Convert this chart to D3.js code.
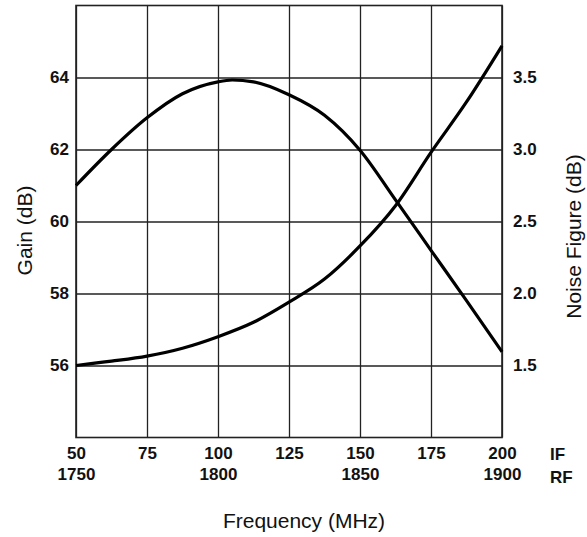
<!DOCTYPE html>
<html>
<head>
<meta charset="utf-8">
<script src="https://cdn.jsdelivr.net/npm/d3@7"></script>
<style>
  html, body { margin: 0; padding: 0; background: #fff; }
  svg { display: block; font-family: "Liberation Sans", Arial, sans-serif; }
</style>
</head>
<body>
<svg id="chart" width="587" height="537"></svg>
<script>
// ---- Data ----
const ifFreq   = [50, 62.5, 75, 87.5, 100, 105, 112.5, 125, 137.5, 150, 162.5, 175, 187.5, 200];
const gainDb   = [61.0, 62.0, 62.88, 63.55, 63.88, 63.93, 63.88, 63.52, 62.95, 61.98, 60.6, 59.2, 57.8, 56.38];
const nfIf     = [50, 62.5, 75, 87.5, 100, 112.5, 125, 137.5, 150, 162.5, 175, 187.5, 200];
const nfDb     = [1.50, 1.53, 1.565, 1.62, 1.70, 1.80, 1.94, 2.10, 2.33, 2.61, 2.98, 3.33, 3.72];
const ifTicks  = [50, 75, 100, 125, 150, 175, 200];
const rfTicks  = [1750, 1800, 1850, 1900];
const gainTicks = [56, 58, 60, 62, 64];
const nfTicks  = [1.5, 2.0, 2.5, 3.0, 3.5];

const svg = d3.select("#chart");
const L = 76, R = 502, T = 5.5, B = 437.5;
const tickFont = 17, titleFont = 21;

const x   = d3.scaleLinear().domain([50, 200]).range([L, R]);
const xRF = d3.scaleLinear().domain([1750, 1900]).range([L, R]);
const yG  = d3.scaleLinear().domain([54, 66]).range([B, T]);
const yN  = d3.scaleLinear().domain([1, 4]).range([B, T]);

const gridColor = "#222";
const styleText = g => g.selectAll("text").attr("font-size", tickFont).attr("font-weight", "bold")
  .attr("fill", "#111").attr("font-family", "Liberation Sans, Arial, sans-serif");

// vertical grid
svg.append("g")
  .attr("transform", `translate(0,${B})`)
  .call(d3.axisBottom(x).tickValues(ifTicks).tickSize(-(B - T)).tickFormat(""))
  .call(g => g.select(".domain").remove())
  .call(g => g.selectAll("line").attr("stroke", gridColor).attr("stroke-width", 1.3));

// horizontal grid
svg.append("g")
  .attr("transform", `translate(${L},0)`)
  .call(d3.axisLeft(yG).tickValues(gainTicks).tickSize(-(R - L)).tickFormat(""))
  .call(g => g.select(".domain").remove())
  .call(g => g.selectAll("line").attr("stroke", gridColor).attr("stroke-width", 1.3));

// frame
svg.append("rect")
  .attr("x", L).attr("y", T).attr("width", R - L).attr("height", B - T)
  .attr("fill", "none").attr("stroke", gridColor).attr("stroke-width", 1.6);

// left tick labels
svg.append("g")
  .attr("transform", `translate(${L},0)`)
  .call(d3.axisLeft(yG).tickValues(gainTicks).tickSize(0).tickPadding(7).tickFormat(d3.format("d")))
  .call(g => g.select(".domain").remove())
  .call(styleText);

// right tick labels
svg.append("g")
  .attr("transform", `translate(${R},0)`)
  .call(d3.axisRight(yN).tickValues(nfTicks).tickSize(0).tickPadding(11).tickFormat(d3.format(".1f")))
  .call(g => g.select(".domain").remove())
  .call(styleText);

// bottom IF labels
svg.append("g")
  .attr("transform", `translate(0,${B})`)
  .call(d3.axisBottom(x).tickValues(ifTicks).tickSize(0).tickPadding(9).tickFormat(d3.format("d")))
  .call(g => g.select(".domain").remove())
  .call(styleText);

// bottom RF labels
svg.append("g")
  .attr("transform", `translate(0,${B + 21})`)
  .call(d3.axisBottom(xRF).tickValues(rfTicks).tickSize(0).tickPadding(9.5).tickFormat(d3.format("d")))
  .call(g => g.select(".domain").remove())
  .call(styleText);

// IF / RF row labels
svg.append("text").attr("x", 550).attr("y", 460).text("IF")
  .attr("font-size", tickFont).attr("font-weight", "bold").attr("fill", "#111");
svg.append("text").attr("x", 550).attr("y", 482.5).text("RF")
  .attr("font-size", tickFont).attr("font-weight", "bold").attr("fill", "#111");

// axis titles
svg.append("text").attr("x", 304).attr("y", 528).attr("text-anchor", "middle")
  .attr("font-size", titleFont).attr("fill", "#111").text("Frequency (MHz)");
svg.append("text").attr("transform", `translate(32,230.5) rotate(-90)`)
  .attr("text-anchor", "middle").attr("font-size", titleFont).attr("fill", "#111").text("Gain (dB)");
svg.append("text").attr("transform", `translate(581,236.5) rotate(-90)`)
  .attr("text-anchor", "middle").attr("font-size", titleFont).attr("fill", "#111").text("Noise Figure (dB)");

// curves
const gainLine = d3.line().x(d => x(d[0])).y(d => yG(d[1])).curve(d3.curveMonotoneX);
const nfLine = d3.line().x(d => x(d[0])).y(d => yN(d[1])).curve(d3.curveMonotoneX);

svg.append("path")
  .datum(ifFreq.map((f, i) => [f, gainDb[i]]))
  .attr("d", gainLine).attr("fill", "none").attr("stroke", "#000").attr("stroke-width", 3.2);

svg.append("path")
  .datum(nfIf.map((f, i) => [f, nfDb[i]]))
  .attr("d", nfLine).attr("fill", "none").attr("stroke", "#000").attr("stroke-width", 3.2);
</script>
</body>
</html>
